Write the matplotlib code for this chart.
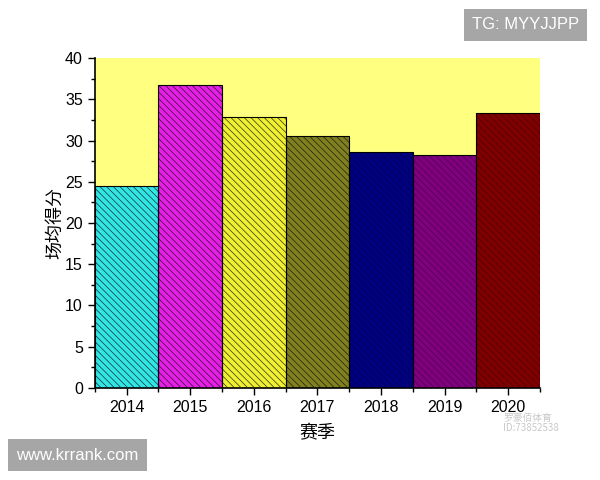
import matplotlib
matplotlib.use('Agg')
from matplotlib import pyplot as plt
from matplotlib.ticker import MultipleLocator, FixedLocator
import numpy as np

plt.rcParams['font.family'] = ['Liberation Sans', 'Noto Sans CJK SC', 'DejaVu Sans']
plt.rcParams['hatch.linewidth'] = 0.5

seasons = ['2014', '2015', '2016', '2017', '2018', '2019', '2020']
scores = [24.5, 36.7, 32.8, 30.5, 28.6, 28.2, 33.3]
colors = ['#33e6e6', '#e61ee6', '#f0f032', '#808020', '#000080', '#800080', '#800000']
hatch_colors = ['#103030', '#301030', '#303010', '#202008', '#000050', '#4a004a', '#4a0000']

fig = plt.figure(figsize=(6, 4.8), dpi=100)
ax = fig.add_axes([0.158, 0.192, 0.742, 0.687])
ax.set_facecolor('#ffff80')

x = np.arange(len(seasons))
# fill, hatch layer (hatch colour comes from edgecolor), then black outline
ax.bar(x, scores, width=1.0, color=colors, linewidth=0, zorder=2)
ax.bar(x, scores, width=1.0, fill=False, edgecolor=hatch_colors, linewidth=0,
       hatch='\\\\\\\\\\', zorder=3)
ax.bar(x, scores, width=1.0, fill=False, edgecolor='black', linewidth=0.8, zorder=4)

ax.set_xlim(-0.5, len(seasons) - 0.5)
ax.set_ylim(0, 40)
ax.set_xticks(x)
ax.set_xticklabels(seasons)
ax.xaxis.set_minor_locator(FixedLocator(np.arange(-0.5, len(seasons), 1.0)))
ax.yaxis.set_major_locator(MultipleLocator(5))
ax.yaxis.set_minor_locator(MultipleLocator(2.5))
ax.tick_params(axis='both', which='major', direction='out', length=5, width=1, labelsize=11.5)
ax.tick_params(axis='both', which='minor', direction='out', length=3, width=1)
for s in ['top', 'right']:
    ax.spines[s].set_visible(False)
ax.spines['left'].set_linewidth(1.2)
ax.spines['bottom'].set_linewidth(1.2)

ax.set_xlabel('赛季', fontsize=13, labelpad=7, family=['Noto Sans CJK SC', 'DejaVu Sans'])
ax.set_ylabel('场均得分', fontsize=13, labelpad=1, family=['Noto Sans CJK SC', 'DejaVu Sans'])

# watermarks
fig.text(0.965, 0.948, 'TG: MYYJJPP', ha='right', va='center', color='white', fontsize=12,
         bbox=dict(boxstyle='square,pad=0.5', facecolor='#a6a6a6', edgecolor='none'))
fig.text(0.027, 0.052, 'www.krrank.com', ha='left', va='center', color='white', fontsize=12,
         bbox=dict(boxstyle='square,pad=0.5', facecolor='#a6a6a6', edgecolor='none'))
fig.text(0.838, 0.118, '罗豪佰体育\nID:73852538', ha='left', va='center', color='#c8c8c8',
         fontsize=7, linespacing=1.0, family=['Noto Sans CJK SC', 'DejaVu Sans'])

fig.savefig('out.png', dpi=100)
